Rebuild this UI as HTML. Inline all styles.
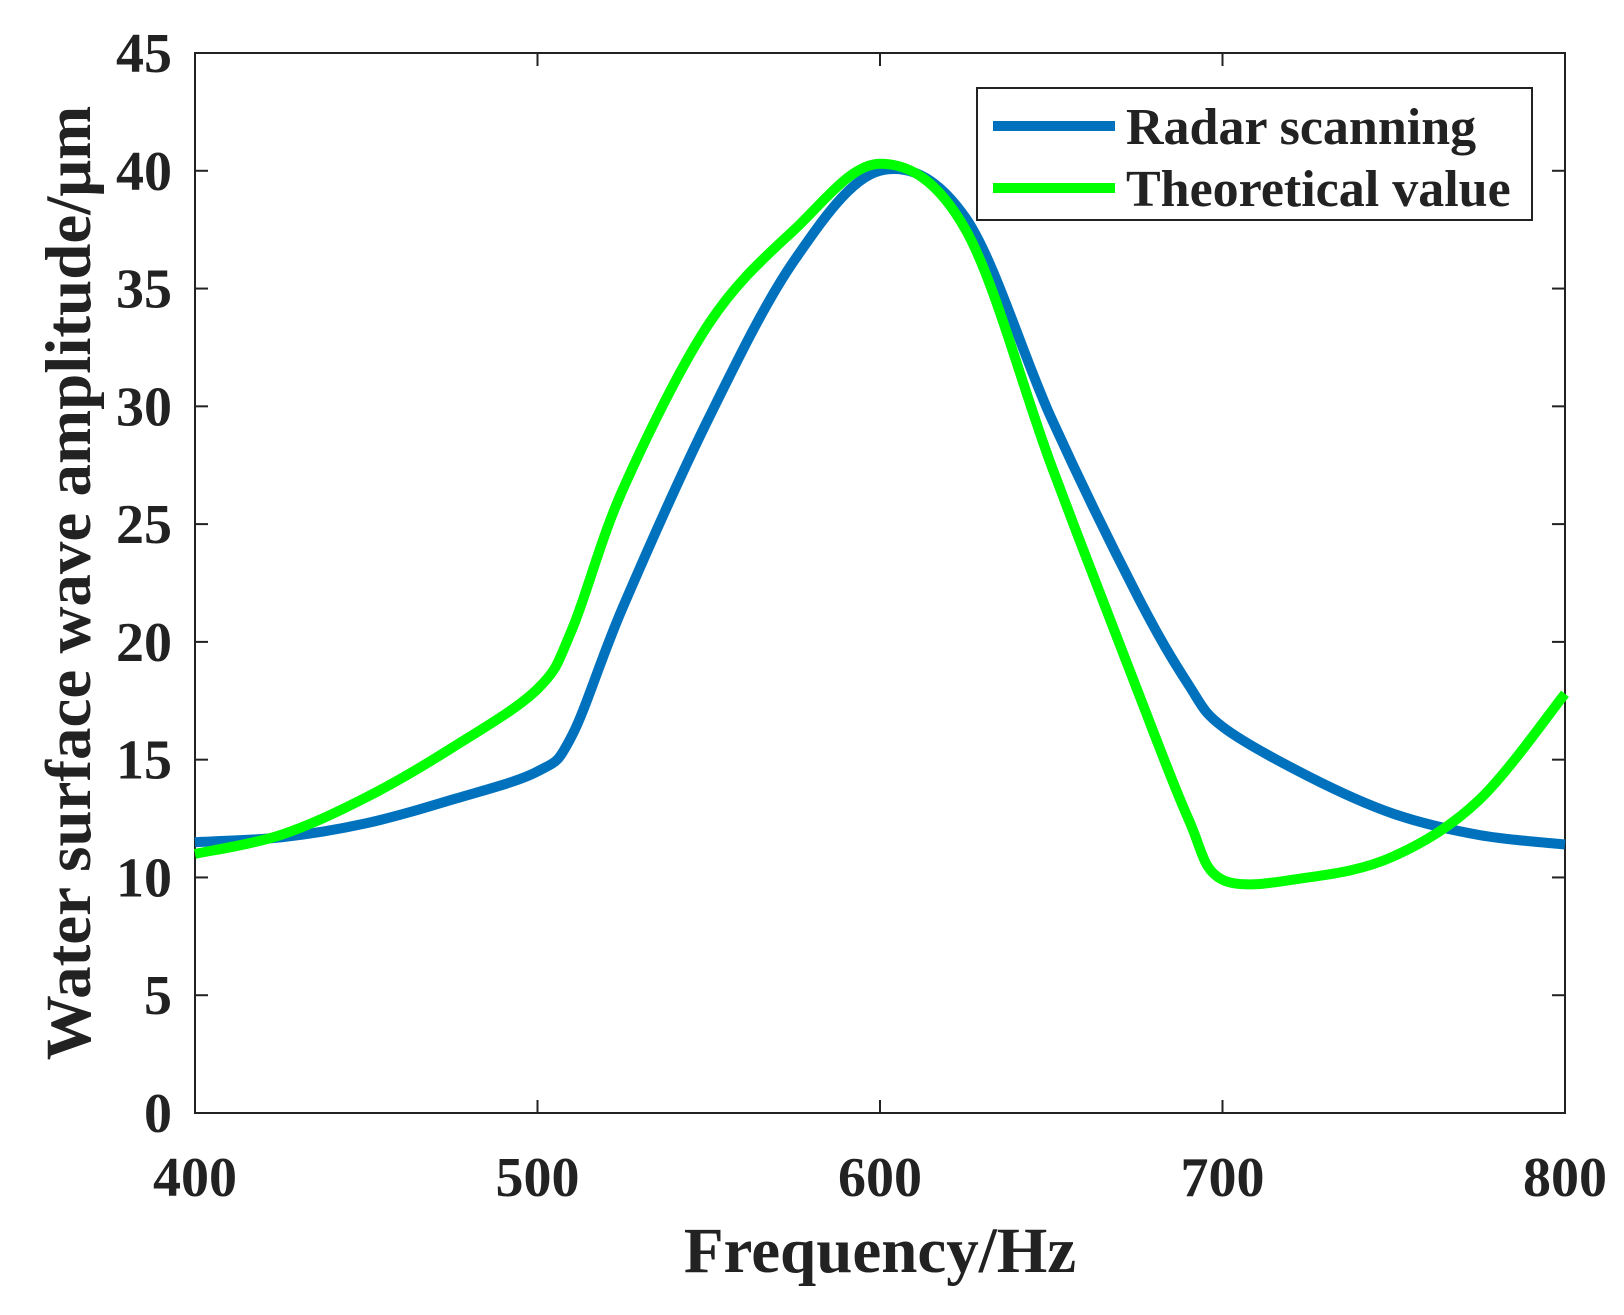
<!DOCTYPE html>
<html><head><meta charset="utf-8"><style>
body{margin:0;background:#fff}
svg text{font-family:"Liberation Serif",serif;font-weight:bold;fill:#222}
</style></head><body>
<svg id="chart" width="1624" height="1310" xmlns="http://www.w3.org/2000/svg">
<g id="plot"></g>
</svg>
<script>
const xTicks=[400,500,600,700,800];
const yTicks=[0,5,10,15,20,25,30,35,40,45];
const radarFreq=[400,425,450,475,500,510,525,550,575,600,625,650,675,690,700,725,750,775,800];
const radarAmp=[11.5,11.7,12.3,13.3,14.5,16,21.5,29.5,36.2,40,38,29.5,22,18.2,16.4,14.3,12.7,11.8,11.4];
const theoFreq=[400,425,450,475,500,510,525,550,575,600,625,650,675,690,700,725,750,775,800];
const theoAmp=[11,11.8,13.4,15.5,18,20.5,26.5,33.5,37.5,40.3,37.5,27.5,18,12.5,9.9,10,10.9,13.3,17.8];
const L=195,R=1565,T=53,B=1113;
const sx=v=>L+(v-400)/400*(R-L), sy=v=>B-v/45*(B-T);
const NS='http://www.w3.org/2000/svg', g=document.getElementById('plot');
function mk(t,a,parent){const e=document.createElementNS(NS,t);for(const k in a)e.setAttribute(k,a[k]);(parent||g).appendChild(e);return e;}
function path(xs,ys){const p=xs.map((x,i)=>[sx(x),sy(ys[i])]);let d='M'+p[0][0]+','+p[0][1];
for(let i=0;i<p.length-1;i++){const p0=p[i-1]||p[i],p1=p[i],p2=p[i+1],p3=p[i+2]||p2;
const c1=[p1[0]+(p2[0]-p0[0])/6,p1[1]+(p2[1]-p0[1])/6],c2=[p2[0]-(p3[0]-p1[0])/6,p2[1]-(p3[1]-p1[1])/6];
d+=`C${c1[0]},${c1[1]} ${c2[0]},${c2[1]} ${p2[0]},${p2[1]}`;}return d;}
let e=mk('rect',{x:L,y:T,width:R-L,height:B-T,fill:'none',stroke:'#222','stroke-width':2});

xTicks.forEach(v=>{const x=sx(v);
 let t=mk('line',{x1:x,x2:x,y1:B,y2:B-13,stroke:'#222','stroke-width':2});
 t=mk('line',{x1:x,x2:x,y1:T,y2:T+13,stroke:'#222','stroke-width':2});
 const l=mk('text',{x:x,y:1196,'text-anchor':'middle','font-size':56});l.textContent=v;});
yTicks.forEach(v=>{const y=sy(v);
 let t=mk('line',{x1:L,x2:L+13,y1:y,y2:y,stroke:'#222','stroke-width':2});
 t=mk('line',{x1:R,x2:R-13,y1:y,y2:y,stroke:'#222','stroke-width':2});
 const l=mk('text',{x:172,y:y+19,'text-anchor':'end','font-size':56});l.textContent=v;});
e=mk('path',{d:path(radarFreq,radarAmp),fill:'none',stroke:'#0072BD','stroke-width':10,'stroke-linejoin':'round'});

e=mk('path',{d:path(theoFreq,theoAmp),fill:'none',stroke:'#00FF00','stroke-width':10,'stroke-linejoin':'round'});

const lg=mk('g',{});
mk('rect',{x:977,y:88,width:555,height:132,fill:'#fff',stroke:'#222','stroke-width':2},lg);
e=mk('line',{x1:993,x2:1115,y1:126,y2:126,stroke:'#0072BD','stroke-width':10},lg);
e=mk('text',{x:1126,y:144,'font-size':52},lg);e.textContent='Radar scanning';
e=mk('line',{x1:993,x2:1115,y1:188,y2:188,stroke:'#00FF00','stroke-width':10},lg);
e=mk('text',{x:1126,y:206,'font-size':52},lg);e.textContent='Theoretical value';
e=mk('text',{x:(L+R)/2,y:1272,'text-anchor':'middle','font-size':65});e.textContent='Frequency/Hz';
e=mk('text',{x:0,y:0,'text-anchor':'middle','font-size':65,transform:'translate(90,583) rotate(-90)'});e.textContent='Water surface wave amplitude/μm';
</script>
</body></html>
